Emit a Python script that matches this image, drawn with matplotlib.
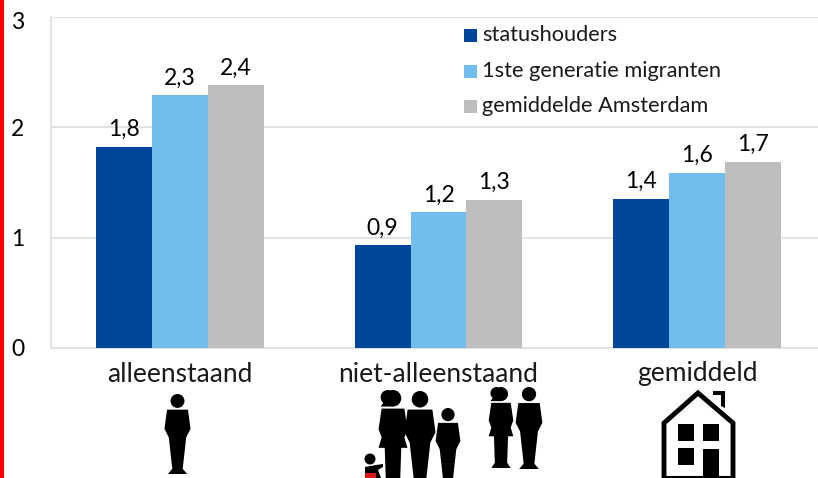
import numpy as np
import matplotlib.pyplot as plt
from matplotlib.patches import Rectangle, Ellipse, Polygon, Circle

categories = ["alleenstaand", "niet-alleenstaand", "gemiddeld"]
series_names = ["statushouders", "1ste generatie migranten", "gemiddelde Amsterdam"]
statushouders = [1.82, 0.93, 1.35]
migranten = [2.29, 1.23, 1.59]
amsterdam = [2.38, 1.34, 1.69]
labels_status = ["1,8", "0,9", "1,4"]
labels_migr = ["2,3", "1,2", "1,6"]
labels_adam = ["2,4", "1,3", "1,7"]
colors = ["#004699", "#71BDEE", "#BEBEBE"]

W, H = 818, 478
plt.rcParams["font.family"] = ["Lato", "DejaVu Sans"]

fig = plt.figure(figsize=(W / 100, H / 100), dpi=100)

# pixel overlay for the red edge and the icons
bg = fig.add_axes([0, 0, 1, 1])
bg.set_xlim(0, W)
bg.set_ylim(H, 0)
bg.axis("off")
bg.add_patch(Rectangle((0, 0), 4, H, color="#FF0000", lw=0))


def person(ax, cx, top, h, dress=False):
    # simple standing figure, h is the height in pixels
    s = h / 92
    ax.add_patch(Circle((cx, top + 8 * s), 8 * s, color="k", lw=0))
    if dress:
        body = [(-11, 18), (11, 18), (14, 38), (11, 46), (14, 56), (8, 56), (7, 86), (11, 92),
                (-11, 92), (-7, 86), (-8, 56), (-14, 56), (-11, 46), (-14, 38)]
        ax.add_patch(Ellipse((cx - 5 * s, top + 7 * s), 14 * s, 14 * s, color="k", lw=0))
        ax.add_patch(Polygon([(cx - 12 * s, top + 16 * s), (cx - 6 * s, top + 8 * s), (cx, top + 16 * s)],
                             closed=True, color="k", lw=0))
    else:
        body = [(-12, 18), (12, 18), (15, 40), (10, 50), (6, 86), (11, 92), (-11, 92),
                (-6, 86), (-10, 50), (-15, 40)]
    pts = [(cx + x * s, top + y * s) for x, y in body]
    ax.add_patch(Polygon(pts, closed=True, color="k", lw=0))


person(bg, 177.5, 394, 80)
person(bg, 393, 390, 95, dress=True)
person(bg, 420, 391, 95)
person(bg, 448, 408, 76)
person(bg, 501, 387, 81, dress=True)
person(bg, 529, 387, 82)

# toddler
bg.add_patch(Circle((370, 459), 5.5, color="k", lw=0))
bg.add_patch(Polygon([(365, 467), (376, 465), (383, 464), (383, 467), (378, 470), (381, 478), (365, 478)],
                     closed=True, color="k", lw=0))
bg.add_patch(Rectangle((365, 473), 11, 5, color="#E0161E", lw=0))

# house
roof = [(664, 478), (664, 423), (698, 393), (733, 423), (733, 478)]
bg.add_patch(Polygon(roof, closed=False, fill=False, ec="k", lw=3.5, joinstyle="miter"))
bg.plot([664, 733], [477, 477], color="k", lw=1.5)
bg.add_patch(Polygon([(713, 391), (725, 391), (725, 408), (721, 406), (721, 395), (713, 395)],
                     closed=True, color="k", lw=0))
for x0, y0, w, h in [(678, 424, 16, 17), (703, 424, 16, 17), (678, 448, 16, 17), (703, 449, 16, 29)]:
    bg.add_patch(Rectangle((x0, y0), w, h, color="k", lw=0))

bg.text(180, 374, categories[0], ha="center", va="center", fontsize=19, color="#1a1a1a")
bg.text(438.5, 374, categories[1], ha="center", va="center", fontsize=19, color="#1a1a1a")
bg.text(697, 374, categories[2], ha="center", va="center", fontsize=19, color="#1a1a1a")

left, right, top, bottom = 51, 826, 17, 348
ax = fig.add_axes([left / W, 1 - bottom / H, (right - left) / W, (bottom - top) / H])
ax.patch.set_alpha(0)
x = np.arange(len(categories))
bw = 56 / 258.5
all_values = [statushouders, migranten, amsterdam]
all_labels = [labels_status, labels_migr, labels_adam]
for i, (vals, labs) in enumerate(zip(all_values, all_labels)):
    pos = x + (i - 1) * bw
    ax.bar(pos, vals, bw, color=colors[i], label=series_names[i], zorder=3)
    for p, v, t in zip(pos, vals, labs):
        ax.annotate(t, (p, v), xytext=(0, 5), textcoords="offset points", ha="center", va="bottom",
                    fontsize=16.5, color="k")

ax.set_xlim(-0.5, 2.5)
ax.set_ylim(0, 3)
ax.set_yticks([1, 2, 3])
ax.grid(axis="y", color="#DEDEDE", lw=1.2, zorder=0)
ax.tick_params(length=0, labelbottom=False, labelleft=False)
for s in ["top", "right"]:
    ax.spines[s].set_visible(False)
for s in ["left", "bottom"]:
    ax.spines[s].set_color("#DEDEDE")
    ax.spines[s].set_linewidth(1.2)

for y, t in [(22, "3"), (129, "2"), (239, "1"), (349, "0")]:
    bg.text(18, y, t, ha="center", va="center", fontsize=16.5, color="k")

# legend drawn with handles placed by hand like the original
for i, (y, name) in enumerate(zip([35, 71, 106], series_names)):
    bg.add_patch(Rectangle((464, y - 6), 13, 13, color=colors[i], lw=0))
    bg.text(482, y, name, ha="left", va="center", fontsize=15.7, color="#1a1a1a")

fig.savefig("out.png", dpi=100)
